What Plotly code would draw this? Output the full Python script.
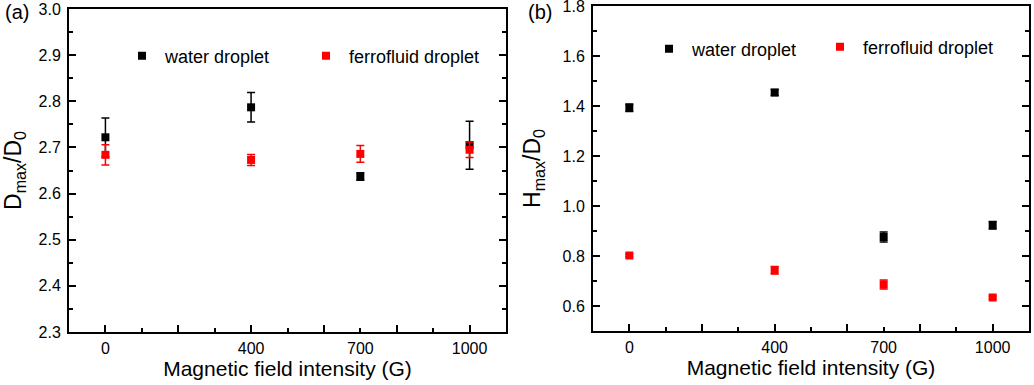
import plotly.graph_objects as go

# ---- data ----
field = [0, 400, 700, 1000]

a_water = [2.722, 2.787, 2.637, 2.705]
a_water_err = [0.042, 0.032, 0.008, 0.052]
a_ferro = [2.684, 2.673, 2.686, 2.695]
a_ferro_err = [0.022, 0.012, 0.018, 0.017]

b_water = [1.393, 1.454, 0.876, 0.923]
b_water_err = [0.015, 0.012, 0.020, 0.015]
b_ferro = [0.802, 0.743, 0.686, 0.634]
b_ferro_err = [0.005, 0.015, 0.018, 0.006]

x_labels = ["0", "400", "700", "1000"]

W, H = 1034, 385
ML, MR, MT, MB = 69, 5, 6, 53
PW = W - ML - MR
PH = H - MT - MB


def px(x):
    return (x - ML) / PW


def py(y):
    return 1 - (y - MT) / PH


FONT = "Liberation Sans, Arial, sans-serif"
fig = go.Figure()


def add_series(y, err, color, name, xa, ya, legend):
    fig.add_trace(go.Scatter(
        x=field, y=y, mode="markers", name=name,
        marker=dict(symbol="square", size=8, color=color),
        error_y=dict(type="data", array=err, visible=True, color=color,
                     thickness=1.5, width=4),
        xaxis=xa, yaxis=ya, legend=legend, showlegend=True,
    ))


add_series(a_water, a_water_err, "black", "water droplet", "x", "y", "legend")
add_series(a_ferro, a_ferro_err, "#ff0000", "ferrofluid droplet", "x", "y", "legend2")
add_series(b_water, b_water_err, "black", "water droplet", "x2", "y2", "legend3")
add_series(b_ferro, b_ferro_err, "#ff0000", "ferrofluid droplet", "x2", "y2", "legend4")

# invisible traces so the label-only overlay axes exist
fig.add_trace(go.Scatter(x=[], y=[], xaxis="x3", yaxis="y", showlegend=False, hoverinfo="skip"))
fig.add_trace(go.Scatter(x=[], y=[], xaxis="x4", yaxis="y2", showlegend=False, hoverinfo="skip"))

xdomA = [0, px(506)]
xdomB = [px(593), 1]
ydomA = [py(332), py(9)]
ydomB = [py(331), py(6)]

tickfont = dict(family=FONT, size=16, color="black")
titlefont = dict(family=FONT, size=21, color="black")

x_tick_axis = dict(
    range=[-100, 1100], showgrid=False, zeroline=False, automargin=False,
    showline=True, linecolor="black", linewidth=2, mirror=True,
    ticks="inside", tickmode="linear", tick0=0, dtick=200, ticklen=7,
    tickwidth=2, tickcolor="black", showticklabels=False,
    minor=dict(ticks="inside", dtick=100, ticklen=4, tickwidth=2, tickcolor="black"),
)
x_label_axis = dict(
    range=[-100, 1100], showgrid=False, zeroline=False, showline=False, automargin=True,
    tickmode="array", tickvals=field, ticktext=x_labels, ticks="",
    tickfont=tickfont, side="bottom", ticklabelstandoff=5,
    title=dict(text="Magnetic field intensity (G)", font=titlefont, standoff=3),
)


def y_axis(rng, dtick, mdtick, title, domain, anchor):
    return dict(
        range=rng, domain=domain, anchor=anchor, showgrid=False, zeroline=False,
        automargin=False,
        showline=True, linecolor="black", linewidth=2, mirror="ticks",
        ticks="inside", tickmode="linear", dtick=dtick, ticklen=7, tickwidth=2,
        tickcolor="black", tickfont=tickfont, tickformat=".1f", ticklabelstandoff=3,
        ticklabeloverflow="allow",
        minor=dict(ticks="inside", dtick=mdtick, ticklen=4, tickwidth=2, tickcolor="black"),
        title=dict(text=title, font=dict(family=FONT, size=23, color="black")),
    )


legend_font = dict(family=FONT, size=18, color="black")


def legend_at(xpix, ypix):
    return dict(orientation="h", x=px(xpix), y=py(ypix), xanchor="left", yanchor="middle",
                bgcolor="rgba(0,0,0,0)", font=legend_font, itemwidth=36)


fig.update_layout(
    width=W, height=H, margin=dict(l=ML, r=MR, t=MT, b=MB, autoexpand=False),
    paper_bgcolor="white", plot_bgcolor="white",
    font=dict(family=FONT, color="black"),
    xaxis=dict(domain=xdomA, anchor="y", **x_tick_axis),
    xaxis3=dict(domain=xdomA, anchor="y", overlaying="x", **x_label_axis),
    xaxis2=dict(domain=xdomB, anchor="y2", **x_tick_axis),
    xaxis4=dict(domain=xdomB, anchor="y2", overlaying="x2", **x_label_axis),
    yaxis=y_axis([2.3, 3.0001], 0.1, 0.05, "D<sub>max</sub>/D<sub>0</sub>", ydomA, "x"),
    yaxis2=y_axis([0.5, 1.8001], 0.2, 0.1, "H<sub>max</sub>/D<sub>0</sub>", ydomB, "x2"),
    legend=legend_at(119, 56),
    legend2=legend_at(303, 56),
    legend3=legend_at(646, 49),
    legend4=legend_at(817, 47),
    annotations=[
        dict(text="(a)", x=px(3), y=py(12), xref="paper", yref="paper",
             xanchor="left", yanchor="middle", showarrow=False,
             font=dict(family=FONT, size=20, color="black")),
        dict(text="(b)", x=px(526), y=py(12), xref="paper", yref="paper",
             xanchor="left", yanchor="middle", showarrow=False,
             font=dict(family=FONT, size=20, color="black")),
    ],
)

fig.write_html("out.html", config={"displayModeBar": False},
               post_script="document.body.style.margin='0';")
